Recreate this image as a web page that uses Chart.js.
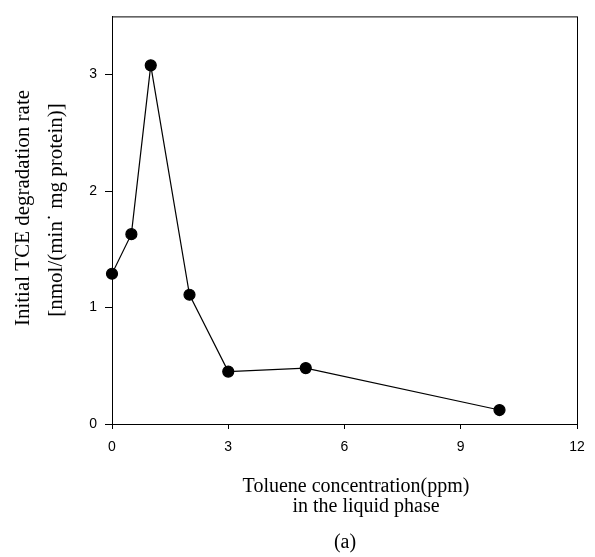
<!DOCTYPE html>
<html><head><meta charset="utf-8">
<script src="https://cdn.jsdelivr.net/npm/chart.js@4/dist/chart.umd.min.js"></script>
<style>html,body{margin:0;padding:0;background:#fff}</style>
</head><body>
<canvas id="c" width="595" height="557"></canvas>
<script>
const tolueneConc = [0, 0.5, 1, 2, 3, 5, 10];
const tceRate = [1.29, 1.63, 3.08, 1.11, 0.45, 0.48, 0.12];
const xTicks = [0, 3, 6, 9, 12];
const yTicks = [0, 1, 2, 3];
const xTitleLines = ['Toluene concentration(ppm)', 'in the liquid phase'];
const yTitleLines = ['Initial TCE degradation rate', '[nmol/(min\u02D9 mg protein)]'];
const panelLabel = '(a)';

const points = tolueneConc.map((x, i) => ({x: x, y: tceRate[i]}));
const serif = '"Liberation Serif", "Times New Roman", serif';
const sans = '"Liberation Sans", Arial, sans-serif';

const framePlugin = {
  id: 'frameAndTitles',
  afterDraw(chart) {
    const ctx = chart.ctx, a = chart.chartArea;
    ctx.save();
    ctx.strokeStyle = '#000';
    ctx.lineWidth = 1;
    ctx.beginPath();
    ctx.moveTo(a.left, a.top + 0.5); ctx.lineTo(a.right, a.top + 0.5);
    ctx.moveTo(a.right + 0.5, a.top); ctx.lineTo(a.right + 0.5, a.bottom);
    ctx.stroke();
    ctx.fillStyle = '#000';
    ctx.textAlign = 'center';
    ctx.textBaseline = 'middle';
    ctx.font = '20px ' + serif;
    ctx.fillText(xTitleLines[0], 356, 487);
    ctx.fillText(xTitleLines[1], 366, 507);
    ctx.fillText(panelLabel, 345, 543);
    ctx.font = '21px ' + serif;
    ctx.save();
    ctx.translate(23, 208);
    ctx.rotate(-Math.PI / 2);
    ctx.fillText(yTitleLines[0], 0, 0);
    ctx.restore();
    ctx.save();
    ctx.translate(56, 210);
    ctx.rotate(-Math.PI / 2);
    ctx.fillText(yTitleLines[1], 0, 0);
    ctx.restore();
    ctx.restore();
  }
};

new Chart(document.getElementById('c'), {
  type: 'scatter',
  data: {
    datasets: [{
      data: points,
      showLine: true,
      borderColor: '#000',
      borderWidth: 1.2,
      backgroundColor: '#000',
      pointRadius: 5.5,
      pointHoverRadius: 5.5,
      pointBackgroundColor: '#000',
      pointBorderColor: '#000',
      clip: false,
      tension: 0
    }]
  },
  options: {
    responsive: false,
    animation: false,
    devicePixelRatio: 1,
    layout: {padding: {left: 0, right: 18, top: 12, bottom: 0}},
    plugins: {legend: {display: false}, tooltip: {enabled: false}},
    scales: {
      x: {
        type: 'linear', min: 0, max: 12,
        afterBuildTicks: s => { s.ticks = xTicks.map(v => ({value: v})); },
        afterFit: s => { s.height = 557 - 424; },
        border: {display: true, color: '#000', width: 1},
        grid: {display: true, drawOnChartArea: false, drawTicks: true, tickLength: 5, color: '#000'},
        ticks: {color: '#000', font: {family: sans, size: 14}, padding: 10, maxRotation: 0}
      },
      y: {
        type: 'linear', min: 0, max: 3.5,
        afterBuildTicks: s => { s.ticks = yTicks.map(v => ({value: v})); },
        afterFit: s => { s.width = 112; },
        border: {display: true, color: '#000', width: 1},
        grid: {display: true, drawOnChartArea: false, drawTicks: true, tickLength: 7, color: '#000'},
        ticks: {color: '#000', font: {family: sans, size: 14}, padding: 8}
      }
    }
  },
  plugins: [framePlugin]
});
</script>
</body></html>
